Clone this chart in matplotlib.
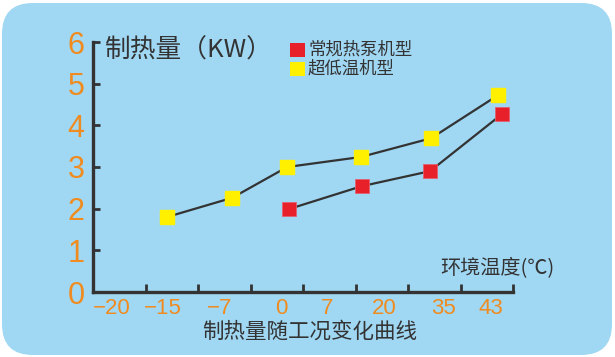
import matplotlib
matplotlib.use("Agg")
import matplotlib.pyplot as plt
from matplotlib.patches import FancyBboxPatch

plt.rcParams["font.family"] = ["Liberation Sans", "Noto Sans CJK SC", "DejaVu Sans"]

# x labels (ambient temperature), drawn on a category-like scale 0..8
temp_labels = ["\u221220", "\u221215", "\u22127", "0", "7", "20", "35", "43"]
label_pos = [0.36, 1.33, 2.42, 3.58, 4.46, 5.54, 6.67, 7.58]
tick_pos = [1, 2, 3, 4, 5, 6, 7, 8]

# ultra-low temperature unit
low_x = [1.41, 2.65, 3.70, 5.10, 6.44, 7.71]
low_y = [1.80, 2.26, 3.00, 3.24, 3.69, 4.72]

# standard heat pump
std_x = [3.73, 5.12, 6.42, 7.79]
std_y = [1.99, 2.54, 2.90, 4.27]

bg = "#a0d8f4"
orange = "#ef8b1f"
dark = "#333333"
red = "#e8202a"
yellow = "#fff000"

fig = plt.figure(figsize=(6.15, 3.57), dpi=100)
fig.patch.set_facecolor("white")
box = FancyBboxPatch((2 / 615, 2 / 357), 610 / 615, 352 / 357,
                     boxstyle="round,pad=0,rounding_size=0.05",
                     transform=fig.transFigure, facecolor=bg, edgecolor="none",
                     mutation_aspect=615 / 357, zorder=-5)
fig.patches.append(box)

ax = fig.add_axes([93 / 615, 65 / 357, 420 / 615, 250 / 357])
ax.set_facecolor("none")
ax.set_xlim(0, 8)
ax.set_ylim(0, 6)

ax.plot(low_x, low_y, color=dark, lw=1.6, zorder=2)
ax.plot(std_x, std_y, color=dark, lw=1.6, zorder=2)
ax.plot(low_x, low_y, ls="none", marker="s", ms=10.5, mfc=yellow, mec=yellow, zorder=3)
ax.plot(std_x, std_y, ls="none", marker="s", ms=10.5, mfc=red, mec="#e26070", mew=0.6, zorder=3)

for s in ["top", "right"]:
    ax.spines[s].set_visible(False)
for s in ["left", "bottom"]:
    ax.spines[s].set_color(dark)
    ax.spines[s].set_linewidth(2.4)

ax.set_yticks(range(7))
ax.set_yticklabels([str(i) for i in range(7)], fontsize=22, color=orange)
ax.tick_params(axis="y", direction="in", length=5, width=2, color=dark, pad=6)

ax.set_xticks(tick_pos)
ax.set_xticklabels([])
ax.tick_params(axis="x", which="major", direction="in", length=6, width=2, color=dark)
ax.set_xticks(label_pos, minor=True)
ax.set_xticklabels(temp_labels, minor=True, fontsize=16, color=orange)
ax.tick_params(axis="x", which="minor", length=0, pad=4)

cjk = ["Noto Sans CJK SC", "DejaVu Sans"]
fig.text(105 / 615, 1 - 51 / 357, "制热量（KW）", fontsize=18.5, color=dark,
         family=cjk, weight="medium", va="center", ha="left")
fig.text(440 / 615, 1 - 268 / 357, "环境温度(℃)", fontsize=14.5, color=dark,
         family=cjk, weight="medium", va="center", ha="left")
fig.text(310 / 615, 1 - 332 / 357, "制热量随工况变化曲线", fontsize=15.5, color=dark,
         family=cjk, weight="medium", va="center", ha="center")

# legend
fig.patches.append(plt.Rectangle((290 / 615, 1 - 57 / 357), 15 / 615, 14 / 357,
                                 transform=fig.transFigure, facecolor=red, edgecolor="none"))
fig.patches.append(plt.Rectangle((290 / 615, 1 - 76 / 357), 15 / 615, 14 / 357,
                                 transform=fig.transFigure, facecolor=yellow, edgecolor="none"))
fig.text(308 / 615, 1 - 50 / 357, "常规热泵机型", fontsize=12.5, color=dark,
         family=cjk, weight="medium", va="center", ha="left")
fig.text(308 / 615, 1 - 69 / 357, "超低温机型", fontsize=12.5, color=dark,
         family=cjk, weight="medium", va="center", ha="left")

fig.savefig("out.png", dpi=100, facecolor="white")
